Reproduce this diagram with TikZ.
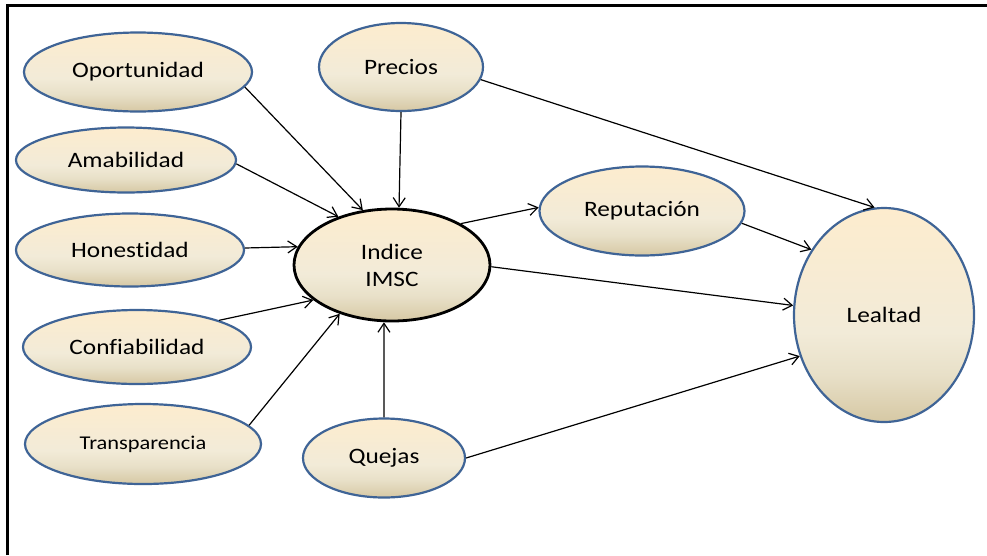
\documentclass[tikz,border=0pt]{standalone}
\usepackage{fontspec}
\setmainfont{Carlito}[Ligatures=NoCommon, FakeStretch=1.15]
\usetikzlibrary{shapes.geometric,arrows.meta}
\definecolor{ovalblue}{RGB}{63,100,150}
\definecolor{creamtop}{RGB}{253,236,206}
\definecolor{creammid}{RGB}{242,235,216}
\definecolor{creamlow}{RGB}{232,224,200}
\definecolor{creambot}{RGB}{214,200,164}
\pgfdeclareverticalshading{creamfade}{100bp}{%
  color(0bp)=(creambot); color(25bp)=(creambot); color(36bp)=(creamlow);
  color(46bp)=(creammid); color(75bp)=(creamtop); color(100bp)=(creamtop)}
\tikzset{
  oval/.style={ellipse, draw=ovalblue, line width=2.2pt, shading=creamfade,
    inner sep=0pt, font=\fontsize{22}{27}\selectfont, align=center},
  mainoval/.style={oval, draw=black, line width=2.8pt},
  link/.style={line width=1.2pt, -{Straight Barb[length=9pt,width=12pt]}},
  frameline/.style={line width=3pt, black}
}
\begin{document}
\begin{tikzpicture}[x=1pt, y=-1pt]
\useasboundingbox (0,0) rectangle (987,555);
% frame along the top and left edges
\draw[frameline] (7.5,555) -- (7.5,5) -- (987,5);

% factor ovals
\node[oval, minimum width=228pt, minimum height=79pt] (opo) at (138,72) {Oportunidad};
\node[oval, minimum width=220pt, minimum height=65pt] (ama) at (126,160) {Amabilidad};
\node[oval, minimum width=228pt, minimum height=73pt] (hon) at (130,250) {Honestidad};
\node[oval, minimum width=228pt, minimum height=74pt] (con) at (137,347) {Confiabilidad};
\node[oval, minimum width=236pt, minimum height=80pt, font=\fontsize{19.5}{24}\selectfont] (tra) at (143,444) {Transparencia};
\node[oval, minimum width=164pt, minimum height=88pt] (pre) at (401,67) {Precios};
\node[oval, minimum width=162pt, minimum height=79pt] (que) at (384,458) {Quejas};
\node[oval, minimum width=205pt, minimum height=89pt] (rep) at (642,211) {Reputación};
\node[oval, minimum width=180pt, minimum height=214pt] (lea) at (884,315) {Lealtad};

% central index
\node[mainoval, minimum width=196pt, minimum height=112pt] (idx) at (392,265) {Indice\\IMSC};

% links into the index
\draw[link] (opo.-8) -- (idx.118);
\draw[link] (ama.-2) -- (idx.138);
\draw[link] (hon.1.5) -- (idx.169);
\draw[link] (con.18) -- (idx.204);
\draw[link] (tra.10) -- (idx.223);
\draw[link] (pre.-90) -- (idx.83);
\draw[link] (que.north) -- (idx.262);

% links towards loyalty
\draw[link] (idx.31) -- (rep.178);
\draw[link] (idx.-1) -- (lea.174);
\draw[link] (pre.-9) -- (lea.95);
\draw[link] (rep.-7) -- (lea.138);
\draw[link] (que.east) -- (lea.206);
\end{tikzpicture}
\end{document}
